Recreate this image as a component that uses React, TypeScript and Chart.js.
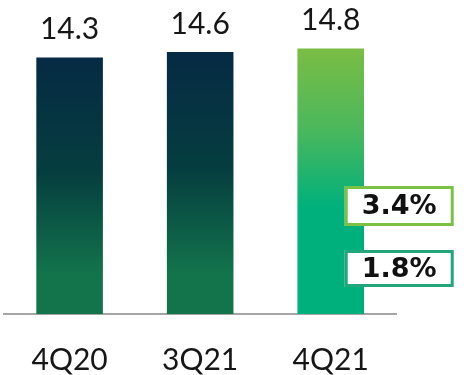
import React, { useEffect, useRef } from "react";
import { Chart, registerables } from "chart.js";

Chart.register(...registerables);

// Quarterly values shown as bars
const categories = ["4Q20", "3Q21", "4Q21"];
const values = [14.3, 14.6, 14.8];
const valueLabels = ["14.3", "14.6", "14.8"];

// Growth call-outs beside the latest bar
const growthLabels = ["3.4%", "1.8%"];
const growthBorders = ["#7bc143", "#22a67a"];

const LABEL_FONT = "'Century Gothic', Lato, 'Noto Sans', sans-serif";

const gradientStops: Record<string, [number, string][]> = {
  dark: [
    [0, "#062a44"],
    [0.45, "#053e3f"],
    [0.85, "#13744c"],
    [1, "#13744c"],
  ],
  bright: [
    [0, "#7abd44"],
    [0.3, "#4cb85c"],
    [0.6, "#00b07c"],
    [1, "#00b07c"],
  ],
};

function barFill(ctx: any) {
  const chart = ctx.chart;
  const area = chart.chartArea;
  if (!area) return "#13744c";
  const y = chart.scales.y;
  const top = y.getPixelForValue(values[ctx.dataIndex]);
  const bottom = y.getPixelForValue(0);
  const g = chart.ctx.createLinearGradient(0, top, 0, bottom);
  const stops = ctx.dataIndex === values.length - 1 ? gradientStops.bright : gradientStops.dark;
  stops.forEach(([o, c]) => g.addColorStop(o, c));
  return g;
}

const annotations = {
  id: "annotations",
  afterDatasetsDraw(chart: any) {
    const { ctx, chartArea } = chart;
    const bars = chart.getDatasetMeta(0).data;
    ctx.save();
    // value labels above each bar
    ctx.font = `30px ${LABEL_FONT}`;
    ctx.fillStyle = "#161616";
    ctx.textAlign = "center";
    ctx.textBaseline = "alphabetic";
    bars.forEach((bar: any, i: number) => {
      ctx.fillText(valueLabels[i], bar.x, bar.y - 18);
    });

    // growth boxes overlapping the last bar
    const last = bars[bars.length - 1];
    const left = last.x + 14;
    const width = 109;
    const boxes = [
      { top: chartArea.bottom - 128, height: 40 },
      { top: chartArea.bottom - 64, height: 37 },
    ];
    boxes.forEach((b, i) => {
      ctx.fillStyle = "#ffffff";
      ctx.fillRect(left, b.top, width, b.height);
      ctx.lineWidth = 3;
      ctx.strokeStyle = growthBorders[i];
      ctx.strokeRect(left + 1.5, b.top + 1.5, width - 3, b.height - 3);
      ctx.fillStyle = "#111111";
      ctx.font = "bold 27px 'DejaVu Sans', sans-serif";
      ctx.textBaseline = "middle";
      ctx.fillText(growthLabels[i], left + width / 2, b.top + b.height / 2 + 1);
    });
    ctx.restore();
  },
};

export default function App() {
  const ref = useRef<HTMLCanvasElement>(null);

  useEffect(() => {
    if (!ref.current) return;
    const chart = new Chart(ref.current, {
      type: "bar",
      data: {
        labels: categories,
        datasets: [
          {
            data: values,
            backgroundColor: barFill as any,
            borderWidth: 0,
            barPercentage: 0.51,
            categoryPercentage: 1,
          },
        ],
      },
      options: {
        animation: false,
        responsive: false,
        devicePixelRatio: 1,
        layout: { padding: { left: 3, right: 71, top: 0, bottom: -31 } },
        plugins: {
          legend: { display: false },
          tooltip: { enabled: false },
        },
        scales: {
          x: {
            grid: { display: false, drawTicks: false },
            border: { display: true, color: "#a6a6a6", width: 2 },
            ticks: {
              color: "#161616",
              padding: 31,
              font: { family: LABEL_FONT, size: 30, lineHeight: 1 },
            },
          },
          y: { display: false, min: 0, max: 17.5 },
        },
      },
      plugins: [annotations],
    });
    return () => chart.destroy();
  }, []);

  return (
    <div style={{ position: "fixed", left: 0, top: 0, width: 467, height: 375, background: "#fff" }}>
      <canvas ref={ref} width={467} height={375} />
    </div>
  );
}
